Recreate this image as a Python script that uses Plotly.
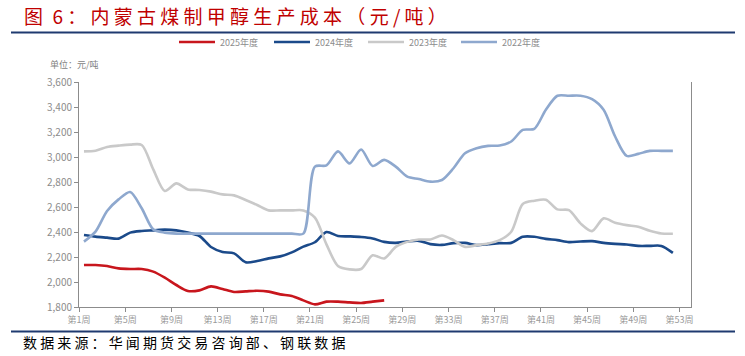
import plotly.graph_objects as go

weeks = list(range(1, 53))

cost_2025 = [2136, 2136, 2128, 2109, 2104, 2104, 2083, 2035, 1976, 1928,
             1933, 1965, 1944, 1920, 1925, 1930, 1923, 1901, 1888, 1853,
             1821, 1843, 1843, 1837, 1832, 1843, 1853]

cost_2024 = [2376, 2363, 2355, 2347, 2395, 2408, 2413, 2419, 2413, 2395,
             2368, 2280, 2240, 2229, 2158, 2168, 2189, 2205, 2237, 2283,
             2318, 2400, 2368, 2365, 2360, 2348, 2321, 2313, 2324, 2329,
             2303, 2297, 2311, 2313, 2295, 2303, 2311, 2313, 2362, 2362,
             2345, 2335, 2319, 2324, 2327, 2313, 2305, 2300, 2289, 2289,
             2289, 2233]

cost_2023 = [3045, 3050, 3080, 3091, 3099, 3096, 2901, 2728, 2789, 2741,
             2736, 2723, 2701, 2693, 2656, 2616, 2573, 2573, 2573, 2573,
             2515, 2301, 2128, 2101, 2104, 2214, 2188, 2281, 2321, 2340,
             2340, 2372, 2335, 2281, 2295, 2308, 2335, 2402, 2624, 2650,
             2658, 2581, 2575, 2469, 2407, 2509, 2474, 2455, 2442, 2410,
             2388, 2386]

cost_2022 = [2323, 2403, 2568, 2661, 2720, 2590, 2421, 2395, 2387, 2387,
             2387, 2387, 2387, 2387, 2387, 2387, 2387, 2387, 2387, 2387,
             2923, 2933, 3045, 2949, 3060, 2928, 2977, 2923, 2843, 2824,
             2803, 2816, 2910, 3030, 3070, 3089, 3092, 3124, 3217, 3225,
             3378, 3490, 3490, 3490, 3463, 3378, 3164, 3009, 3025, 3049,
             3049, 3049]

series_names = ["2025年度", "2024年度", "2023年度", "2022年度"]
series_colors = ["#C8161D", "#1B4A8A", "#C9C9C9", "#8EA8CE"]
series_data = [cost_2025, cost_2024, cost_2023, cost_2022]
legend_left_px = [181, 276, 370, 463]

x_tick_weeks = list(range(1, 54, 4))
x_tick_text = [f"第{w}周" for w in x_tick_weeks]
y_tick_vals = list(range(1800, 3601, 200))
y_tick_text = [f"{v:,}" for v in y_tick_vals]

title_head = "图\u20026\u00a0："
title_body = "内蒙古煤制甲醇生产成本（元/吨）"
source_text = "数据来源：华闻期货交易咨询部、钢联数据"
unit_text = "单位：元/吨"

# data points sit ~0.43 week right of their category tick
offset = 0.43

L, T, PW, PH = 79, 82, 612.0, 225.0  # plot area in px


def px_x(x):
    return (x - L) / PW


def px_y(y):
    return (T + PH - y) / PH


fig = go.Figure()
legend_ids = ["legend", "legend2", "legend3", "legend4"]
for name, color, data, lid in zip(series_names, series_colors, series_data, legend_ids):
    fig.add_trace(go.Scatter(
        x=[w + offset for w in weeks[:len(data)]], y=data, name=name, legend=lid,
        mode="lines", line=dict(color=color, width=2.6, shape="spline", smoothing=0.8),
        hoverinfo="skip"))

fig.update_layout(
    width=745, height=356,
    margin=dict(l=L, r=745 - L - int(PW), t=T, b=356 - T - int(PH), autoexpand=False),
    paper_bgcolor="white", plot_bgcolor="white",
    font=dict(family="Noto Sans CJK SC, sans-serif", color="#8C8C8C", size=9),
    showlegend=True,
    xaxis=dict(range=[1, 54], tickvals=x_tick_weeks,
               ticktext=x_tick_text, showgrid=False, zeroline=False,
               showline=True, linecolor="#8C8C8C", linewidth=1,
               ticks="outside", ticklen=4, tickcolor="#8C8C8C",
               tickfont=dict(size=9, color="#9A9A9A")),
    yaxis=dict(range=[1800, 3600], tickvals=y_tick_vals, ticktext=y_tick_text,
               showgrid=False, zeroline=False, showline=True, mirror=True,
               linecolor="#8C8C8C", linewidth=1, ticks="outside", ticklen=4,
               tickcolor="#8C8C8C", tickfont=dict(size=10, color="#8C8C8C")),
)

for lid, lx in zip(legend_ids, legend_left_px):
    fig.update_layout({lid: dict(orientation="h", x=px_x(lx - 7), xanchor="left",
                                 y=px_y(42), yanchor="middle", yref="paper",
                                 bgcolor="rgba(0,0,0,0)",
                                 font=dict(size=9, color="#8C8C8C"),
                                 itemwidth=36)})

fig.add_annotation(text=title_head + " " + " ".join(title_body), xref="paper", yref="paper",
                   x=px_x(22), y=px_y(15), xanchor="left", yanchor="middle",
                   showarrow=False, font=dict(size=19, color="#C00000",
                                              family="Noto Sans CJK SC"))
fig.add_annotation(text=unit_text, xref="paper", yref="paper",
                   x=px_x(48), y=px_y(65), xanchor="left", yanchor="middle",
                   showarrow=False, font=dict(size=9, color="#7F7F7F"))
fig.add_annotation(text=" ".join(source_text), xref="paper", yref="paper",
                   x=px_x(21), y=px_y(342), xanchor="left", yanchor="middle",
                   showarrow=False, font=dict(size=14, color="#000000",
                                              family="Noto Sans CJK SC"))

for y_px in (32.5, 331.5):
    fig.add_shape(type="line", xref="paper", yref="paper",
                  x0=px_x(11), x1=px_x(735),
                  y0=px_y(y_px), y1=px_y(y_px),
                  line=dict(color="#1F3A70", width=2.2))

fig.write_html("out.html", config={"displayModeBar": False},
               post_script="document.body.style.margin='0px';")
